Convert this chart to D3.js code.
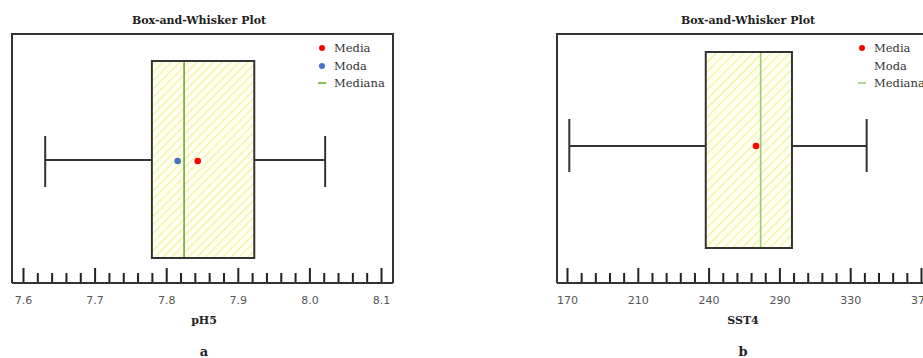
<!DOCTYPE html>
<html>
<head>
<meta charset="utf-8">
<script src="https://cdn.jsdelivr.net/npm/d3@7"></script>
<style>
  body { margin: 0; background: #fff; }
  svg { display: block; }
</style>
</head>
<body>
<script>
// panel a : pH5
var phStats = { min: 7.631, q1: 7.780, median: 7.825, q3: 7.923, max: 8.022, mean: 7.844, mode: 7.816 };
var phTicks = [7.6, 7.7, 7.8, 7.9, 8.0, 8.1];
var phTickLabels = ["7.6", "7.7", "7.8", "7.9", "8.0", "8.1"];
var phDomain = [7.6, 8.1];

// panel b : SST4 (no mode shown)
var sstStats = { min: 171.3, q1: 248.4, median: 279.4, q3: 297.1, max: 339.3, mean: 276.8, mode: null };
var sstTicks = [170, 210, 250, 290, 330, 370];
var sstTickLabels = ["170", "210", "240", "290", "330", "370"];
var sstDomain = [170, 370];

var legendNames = ["Media", "Moda", "Mediana"];

var svg = d3.select("body").append("svg")
  .attr("width", 923)
  .attr("height", 358);

var defs = svg.append("defs");
function hatch(id, gap) {
  var p = defs.append("pattern")
    .attr("id", id)
    .attr("patternUnits", "userSpaceOnUse")
    .attr("width", gap).attr("height", gap)
    .attr("patternTransform", "rotate(45)");
  p.append("rect").attr("width", gap).attr("height", gap).attr("fill", "#fffff2");
  p.append("line")
    .attr("x1", 0).attr("y1", 0).attr("x2", 0).attr("y2", gap)
    .attr("stroke", "#f0f39a").attr("stroke-width", 2.4);
}
hatch("hatchA", 6);
hatch("hatchB", 6.5);

function drawPanel(o) {
  var g = svg.append("g").attr("transform", "translate(" + o.left + ",0)");
  var top = 34, axisY = 283, w = 381;
  var boxTop = o.boxTop, boxBot = o.boxBot;

  var x = d3.scaleLinear().domain(o.domain).range([o.r0, o.r1]);

  g.append("text")
    .attr("x", o.titleX).attr("y", 24)
    .attr("text-anchor", "middle")
    .style("font-family", "'DejaVu Serif', serif")
    .style("font-weight", "bold")
    .style("font-size", "11px")
    .attr("fill", "#222")
    .text("Box-and-Whisker Plot");

  // frame (top, left, right)
  g.append("path")
    .attr("d", "M0," + axisY + "V" + top + "H" + w + "V" + axisY)
    .attr("fill", "none").attr("stroke", "#333").attr("stroke-width", 2);

  var s = o.stats, cy = o.whiskerY;
  // whiskers
  g.append("line").attr("x1", x(s.min)).attr("x2", x(s.q1)).attr("y1", cy).attr("y2", cy)
    .attr("stroke", "#333").attr("stroke-width", 2);
  g.append("line").attr("x1", x(s.q3)).attr("x2", x(s.max)).attr("y1", cy).attr("y2", cy)
    .attr("stroke", "#333").attr("stroke-width", 2);
  [s.min, s.max].forEach(function (v) {
    g.append("line").attr("x1", x(v)).attr("x2", x(v))
      .attr("y1", o.capTop).attr("y2", o.capBot)
      .attr("stroke", "#333").attr("stroke-width", 2);
  });

  // box
  g.append("rect")
    .attr("x", x(s.q1)).attr("y", boxTop)
    .attr("width", x(s.q3) - x(s.q1)).attr("height", boxBot - boxTop)
    .attr("fill", "url(#" + o.hatch + ")")
    .attr("stroke", "#333").attr("stroke-width", 2);
  g.append("line")
    .attr("x1", x(s.median)).attr("x2", x(s.median))
    .attr("y1", boxTop + 1).attr("y2", boxBot - 1)
    .attr("stroke", o.medianColor).attr("stroke-width", 1.6);

  if (s.mode != null) {
    g.append("circle").attr("cx", x(s.mode)).attr("cy", o.dotY).attr("r", 3.3).attr("fill", "#4472c4");
  }
  g.append("circle").attr("cx", x(s.mean)).attr("cy", o.dotY).attr("r", 3.3).attr("fill", "#ff0000");

  // legend
  var lg = g.append("g").attr("transform", "translate(" + o.legendX + ",0)");
  var ly = [48, 66, 83];
  legendNames.forEach(function (name, i) {
    if (i === 0) lg.append("circle").attr("cx", 0).attr("cy", ly[i]).attr("r", 3).attr("fill", "#ff0000");
    if (i === 1 && s.mode != null) lg.append("circle").attr("cx", 0).attr("cy", ly[i]).attr("r", 3).attr("fill", "#4472c4");
    if (i === 2) lg.append("line").attr("x1", -4).attr("x2", 4).attr("y1", ly[i]).attr("y2", ly[i])
      .attr("stroke", o.medianColor).attr("stroke-width", 1.6);
    lg.append("text")
      .attr("x", 12).attr("y", ly[i] + 4)
      .style("font-family", "'DejaVu Serif', serif")
      .style("font-size", "11.5px")
      .attr("fill", "#333")
      .text(name);
  });

  // axis : ticks pointing up, labels below
  var step = (o.ticks[1] - o.ticks[0]) / 5;
  var minor = d3.range(0, (o.ticks.length - 1) * 5 + 1)
    .filter(function (i) { return i % 5 !== 0; })
    .map(function (i) { return o.ticks[0] + i * step; });

  var ax = g.append("g").attr("transform", "translate(0," + axisY + ")");
  ax.append("g").call(d3.axisTop(x).tickValues(minor).tickSize(10).tickSizeOuter(0).tickFormat(""));
  ax.append("g").call(d3.axisTop(x).tickValues(o.ticks).tickSize(15).tickSizeOuter(0).tickFormat(""));
  ax.selectAll(".domain").remove();
  ax.selectAll(".tick line").attr("stroke", "#222").attr("stroke-width", 2);
  ax.append("line").attr("x1", 0).attr("x2", w).attr("stroke", "#333").attr("stroke-width", 2);

  var lab = ax.append("g").call(d3.axisBottom(x).tickValues(o.ticks).tickSize(0).tickPadding(13)
    .tickFormat(function (d, i) { return o.tickLabels[i]; }));
  lab.select(".domain").remove();
  lab.selectAll("text")
    .style("font-family", "'DejaVu Sans', sans-serif")
    .style("font-size", "11px")
    .attr("fill", "#555");

  g.append("text")
    .attr("x", o.xTitleX).attr("y", 324)
    .attr("text-anchor", "middle")
    .style("font-family", "'DejaVu Serif', serif")
    .style("font-weight", "bold")
    .style("font-size", "11px")
    .attr("fill", "#222")
    .text(o.xTitle);

  g.append("text")
    .attr("x", o.xTitleX).attr("y", 356)
    .attr("text-anchor", "middle")
    .style("font-family", "'DejaVu Serif', serif")
    .style("font-weight", "bold")
    .style("font-size", "13px")
    .attr("fill", "#222")
    .text(o.letter);
}

drawPanel({
  left: 12, domain: phDomain, r0: 11, r1: 369,
  stats: phStats, ticks: phTicks, tickLabels: phTickLabels,
  boxTop: 61, boxBot: 258, whiskerY: 160, capTop: 136, capBot: 187, dotY: 161,
  hatch: "hatchA", medianColor: "#6aaa3a",
  legendX: 310, titleX: 187, xTitleX: 192, xTitle: "pH5", letter: "a"
});

drawPanel({
  left: 557, domain: sstDomain, r0: 10, r1: 364,
  stats: sstStats, ticks: sstTicks, tickLabels: sstTickLabels,
  boxTop: 52, boxBot: 248, whiskerY: 146, capTop: 119, capBot: 172, dotY: 146,
  hatch: "hatchB", medianColor: "#9cc97a",
  legendX: 305, titleX: 191, xTitleX: 186, xTitle: "SST4", letter: "b"
});
</script>
</body>
</html>
